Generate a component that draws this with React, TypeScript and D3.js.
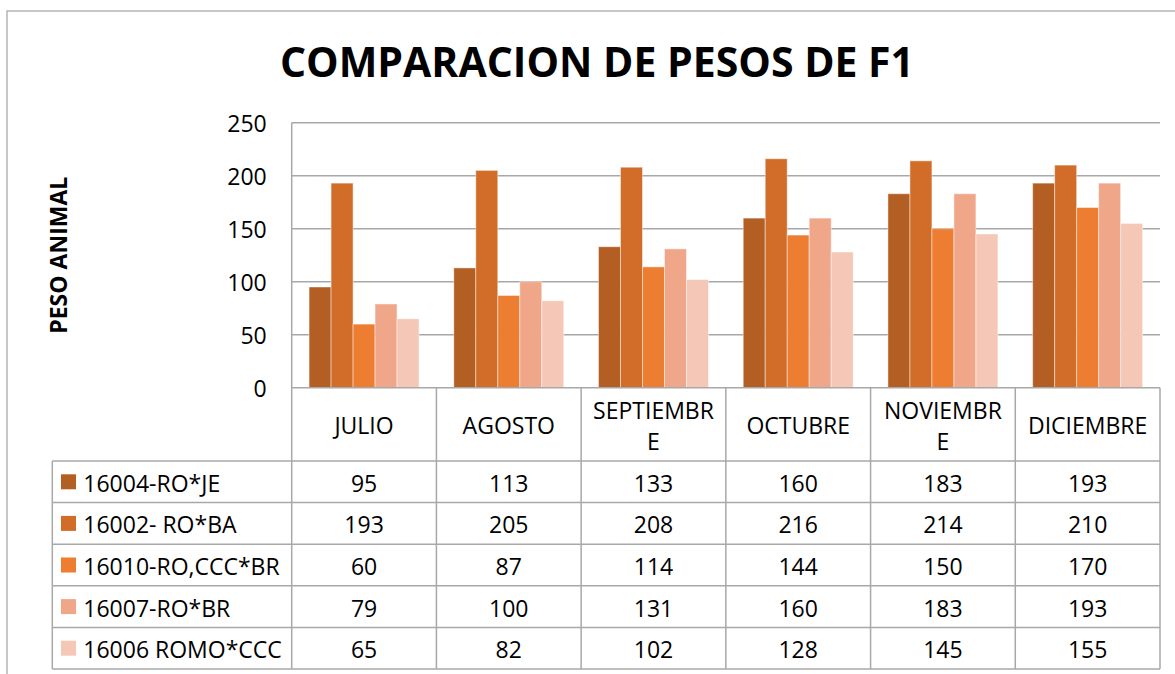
import React from "react";
import * as d3 from "d3";

const MONTHS = ["JULIO", "AGOSTO", "SEPTIEMBRE", "OCTUBRE", "NOVIEMBRE", "DICIEMBRE"];
// how Excel wrapped the month labels inside the table cells
const MONTH_LINES = [["JULIO"], ["AGOSTO"], ["SEPTIEMBR", "E"], ["OCTUBRE"], ["NOVIEMBR", "E"], ["DICIEMBRE"]];

const SERIES = ["16004-RO*JE", "16002- RO*BA", "16010-RO,CCC*BR", "16007-RO*BR", "16006 ROMO*CCC"];
const COLORS = ["#B35E22", "#D26D29", "#ED7D31", "#F0A789", "#F5C7B7"];

const V_16004 = [95, 113, 133, 160, 183, 193];
const V_16002 = [193, 205, 208, 216, 214, 210];
const V_16010 = [60, 87, 114, 144, 150, 170];
const V_16007 = [79, 100, 131, 160, 183, 193];
const V_16006 = [65, 82, 102, 128, 145, 155];
const VALUES = [V_16004, V_16002, V_16010, V_16007, V_16006];

const Y_TICKS = [0, 50, 100, 150, 200, 250];

const FONT = "'Open Sans', 'Noto Sans', sans-serif";

export default function App() {
  const W = 1175;
  const H = 674;
  const plot = { left: 291.7, right: 1160, top: 122.7, bottom: 387.7 };
  const headerBottom = 461;
  const rowH = 41.6;
  const legendLeft = 52.3;
  const tableBottom = headerBottom + rowH * SERIES.length;
  const fs = 23;

  const x = d3.scaleBand<string>().domain(MONTHS).range([plot.left, plot.right]).padding(0);
  const xs = d3
    .scaleBand<string>()
    .domain(SERIES)
    .range([0, x.bandwidth()])
    .paddingInner(0)
    .paddingOuter(0.79);
  const y = d3.scaleLinear().domain([0, 250]).range([plot.bottom, plot.top]);

  const grid = "#a8a8a8";

  return (
    <svg
      width={W}
      height={H}
      style={{ position: "absolute", left: 0, top: 0, background: "#fff" }}
      fontFamily={FONT}
    >
      {/* outer chart border */}
      <rect x={7} y={11} width={W + 20} height={H + 20} fill="none" stroke="#b5b5b5" strokeWidth={1.5} />

      <text x={597} y={77} textAnchor="middle" fontSize={41} fontWeight={700} fill="#000">
        COMPARACION DE PESOS DE F1
      </text>

      <text
        transform={`translate(58,${(plot.top + plot.bottom) / 2}) rotate(-90)`}
        textAnchor="middle"
        dominantBaseline="central"
        fontSize={fs}
        fontWeight={700}
        fill="#000"
      >
        PESO ANIMAL
      </text>

      {/* gridlines */}
      {Y_TICKS.filter((t) => t > 0).map((t) => (
        <line key={t} x1={plot.left} x2={plot.right} y1={y(t)} y2={y(t)} stroke={grid} strokeWidth={1.5} />
      ))}
      {Y_TICKS.map((t) => (
        <text key={t} x={266.7} y={y(t)} textAnchor="end" dominantBaseline="central" fontSize={fs} fill="#000">
          {t}
        </text>
      ))}

      {/* bars */}
      {SERIES.map((s, si) =>
        MONTHS.map((m, mi) => (
          <rect
            key={s + m}
            x={(x(m) as number) + (xs(s) as number)}
            y={y(VALUES[si][mi])}
            width={xs.bandwidth()}
            height={y(0) - y(VALUES[si][mi])}
            fill={COLORS[si]}
            stroke="#ffffff"
            strokeOpacity={0.45}
            strokeWidth={1}
          />
        ))
      )}

      {/* data table */}
      <g stroke={grid} strokeWidth={1.5}>
        <line x1={plot.left} x2={plot.right} y1={plot.bottom} y2={plot.bottom} />
        {SERIES.map((s, i) => (
          <line key={s} x1={legendLeft} x2={plot.right} y1={headerBottom + rowH * i} y2={headerBottom + rowH * i} />
        ))}
        <line x1={legendLeft} x2={plot.right} y1={tableBottom} y2={tableBottom} />
        <line x1={legendLeft} x2={legendLeft} y1={headerBottom} y2={tableBottom} />
        <line x1={plot.left} x2={plot.left} y1={plot.top} y2={tableBottom} />
        {MONTHS.map((m) => (
          <line
            key={m}
            x1={(x(m) as number) + x.bandwidth()}
            x2={(x(m) as number) + x.bandwidth()}
            y1={plot.bottom}
            y2={tableBottom}
          />
        ))}
      </g>

      {MONTHS.map((m, mi) => {
        const lines = MONTH_LINES[mi];
        const cy = (plot.bottom + headerBottom) / 2 + 1;
        const lh = 31.5;
        return (
          <text key={m} textAnchor="middle" fontSize={fs} fill="#000">
            {lines.map((l, li) => (
              <tspan
                key={li}
                x={(x(m) as number) + x.bandwidth() / 2}
                y={cy + (li - (lines.length - 1) / 2) * lh}
                dominantBaseline="central"
              >
                {l}
              </tspan>
            ))}
          </text>
        );
      })}

      {SERIES.map((s, si) => {
        const cy = headerBottom + rowH * si + rowH / 2;
        return (
          <g key={s}>
            <rect x={61} y={cy - 7.5} width={15} height={15} fill={COLORS[si]} />
            <text x={83.3} y={cy + 1} dominantBaseline="central" fontSize={fs} fill="#000">
              {s}
            </text>
            {MONTHS.map((m, mi) => (
              <text
                key={m}
                x={(x(m) as number) + x.bandwidth() / 2}
                y={cy + 1}
                textAnchor="middle"
                dominantBaseline="central"
                fontSize={fs}
                fill="#000"
              >
                {VALUES[si][mi]}
              </text>
            ))}
          </g>
        );
      })}
    </svg>
  );
}
